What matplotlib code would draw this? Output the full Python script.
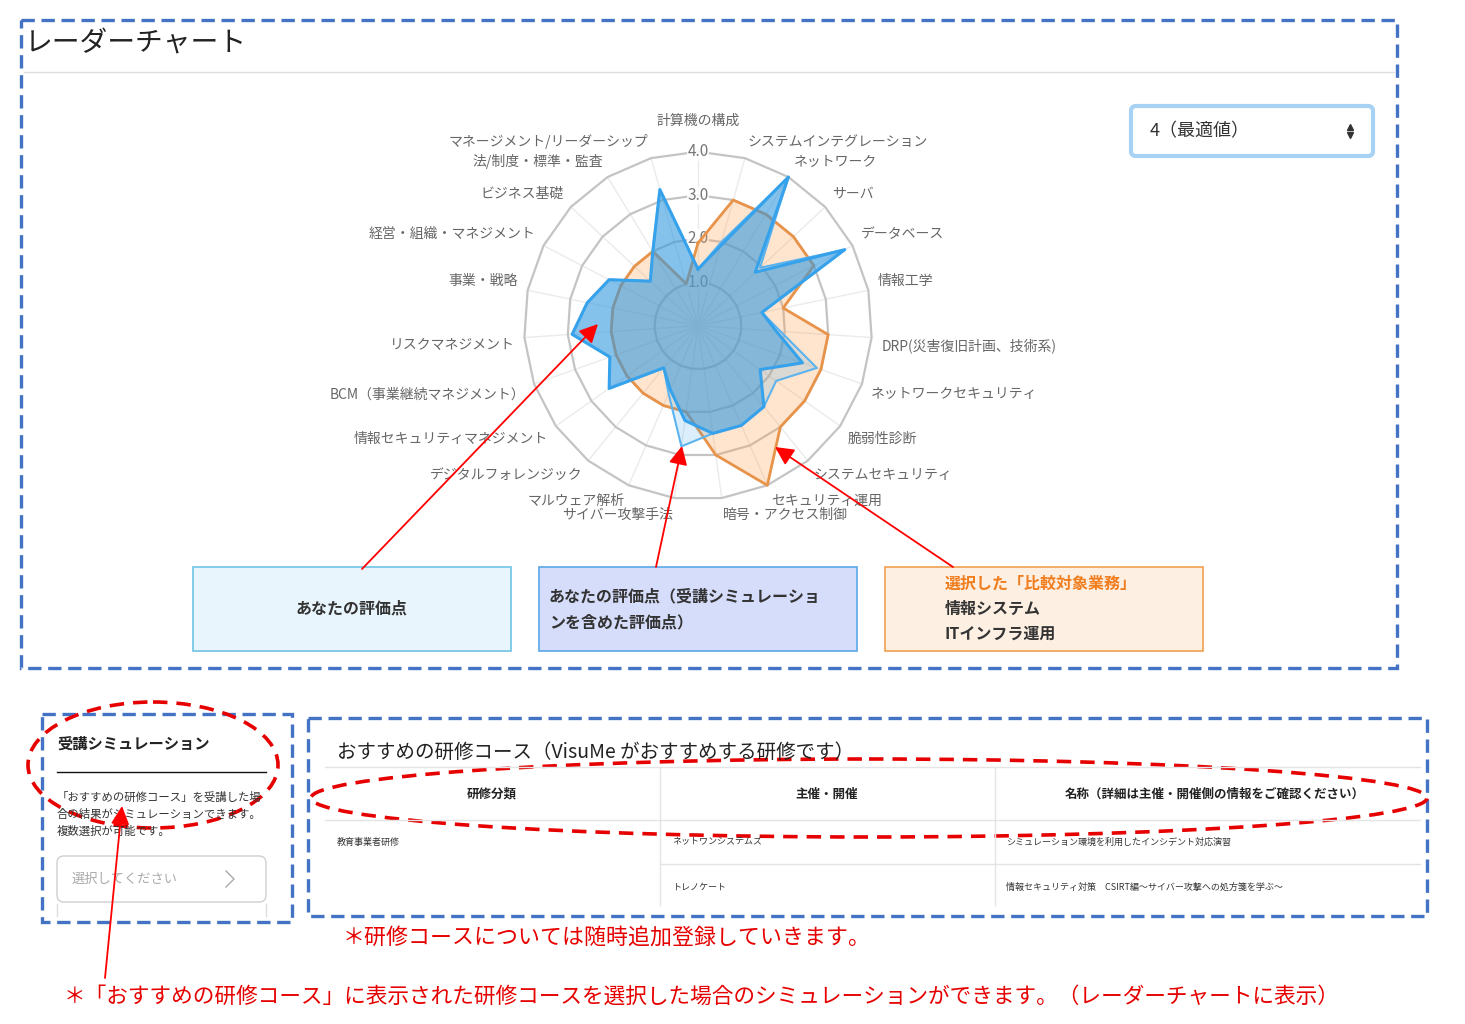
import numpy as np
import matplotlib
matplotlib.use("Agg")
import matplotlib.pyplot as plt
from matplotlib.patches import Rectangle, FancyBboxPatch, Ellipse

plt.rcParams['font.family'] = ['Noto Sans CJK JP', 'DejaVu Sans']

# レーダーチャートの項目（上から時計回り）
labels = [
    "計算機の構成", "システムインテグレーション", "ネットワーク", "サーバ",
    "データベース", "情報工学", "DRP(災害復旧計画、技術系)", "ネットワークセキュリティ",
    "脆弱性診断", "システムセキュリティ", "セキュリティ運用", "暗号・アクセス制御",
    "サイバー攻撃手法", "マルウェア解析", "デジタルフォレンジック",
    "情報セキュリティマネジメント", "BCM（事業継続マネジメント）", "リスクマネジメント",
    "事業・戦略", "経営・組織・マネジメント", "ビジネス基礎", "法/制度・標準・監査",
    "マネージメント/リーダーシップ",
]
comparison = [1.9, 3.0, 3.0, 3.0, 3.0, 2.0, 3.0, 3.0, 3.0, 3.0, 4.0, 3.0,
              2.0, 2.0, 2.0, 2.0, 2.0, 2.0, 2.0, 2.0, 2.0, 2.0, 1.0]
your_score = [1.3, 1.9, 4.0, 1.8, 3.8, 1.5, 1.8, 2.55, 1.75, 2.4, 2.5, 2.5,
              2.2, 1.6, 1.25, 2.5, 2.15, 2.9, 2.6, 2.3, 1.5, 2.0, 3.25]
simulation = [1.3, 2.0, 4.0, 1.95, 3.8, 1.5, 1.9, 2.9, 2.2, 2.4, 2.5, 2.5,
              2.8, 1.7, 1.25, 2.5, 2.15, 2.9, 2.6, 2.3, 1.5, 2.0, 3.25]
r_ticks = [1.0, 2.0, 3.0, 4.0]

# 下の表
table_header = ["研修分類", "主催・開催", "名称（詳細は主催・開催側の情報をご確認ください）"]
table_rows = [
    ["教育事業者研修", "ネットワンシステムズ", "シミュレーション環境を利用したインシデント対応演習"],
    ["", "トレノケート", "情報セキュリティ対策　CSIRT編～サイバー攻撃への処方箋を学ぶ～"],
]

W, H = 1465, 1024
fig = plt.figure(figsize=(W / 100, H / 100), dpi=100)

bg = fig.add_axes([0, 0, 1, 1])
bg.set_xlim(0, W)
bg.set_ylim(H, 0)
bg.axis("off")

frame_blue = "#4472c4"
red = "#e60000"

# ==== 上のパネル ====
bg.add_patch(Rectangle((21, 20), 1376, 648, fill=False, ec=frame_blue, lw=2.4,
                       ls=(0, (4, 2))))
bg.text(25, 43, "レーダーチャート", fontsize=20, color="#222", va="center")
bg.plot([24, 1394], [72, 72], color="#dcdcdc", lw=1)

# セレクトボックス
bg.add_patch(FancyBboxPatch((1131, 106), 242, 50, boxstyle="round,pad=0,rounding_size=5",
                            fc="white", ec="#a8d2f4", lw=3))
bg.text(1150, 131, "4（最適値）", fontsize=13, color="#333", va="center")
bg.plot(1350, 127, marker="^", ms=5, color="#333")
bg.plot(1350, 135, marker="v", ms=5, color="#333")

# ==== レーダーチャート ====
cx, cy, R = 698, 325.7, 174
ax = fig.add_axes([(cx - R) / W, 1 - (cy + R) / H, 2 * R / W, 2 * R / H],
                  projection="polar", zorder=2)
ax.set_theta_zero_location("N")
ax.set_theta_direction(-1)
ax.set_ylim(0, 4)
ax.set_axis_off()

n = len(labels)
theta = np.arange(n) * 2 * np.pi / n
tc = np.append(theta, theta[0])

for t in theta:
    ax.plot([t, t], [0, 4], color="#ebebeb", lw=1, zorder=1, clip_on=False)
for r in r_ticks:
    ax.plot(tc, [r] * (n + 1), color="#c4c4c4", lw=1.6, zorder=1.2, clip_on=False)
    ax.text(0, r, f"{r:.1f}", ha="center", va="center", fontsize=11, color="#777",
            zorder=1.5, bbox=dict(fc="white", ec="none", pad=0.6, alpha=0.85))


def close(v):
    return list(v) + [v[0]]


ax.fill(tc, close(comparison), color="#ff9f50", alpha=0.28, lw=0, zorder=3)
ax.plot(tc, close(comparison), color="#e8934a", lw=2, zorder=3.1, clip_on=False)
ax.fill(tc, close(simulation), color="#36a2eb", alpha=0.18, lw=0, zorder=4)
ax.plot(tc, close(simulation), color="#5db3ee", lw=1.5, zorder=4.1, clip_on=False)
ax.fill(tc, close(your_score), color="#3097de", alpha=0.5, lw=0, zorder=5)
ax.plot(tc, close(your_score), color="#36a2eb", lw=2.2, zorder=5.1, clip_on=False)

for t, lab in zip(theta, labels):
    deg = np.degrees(t)
    r_lab = 4.22
    if deg < 0.5:
        ha = "center"
        r_lab = 4.55
    elif deg < 180:
        ha = "left"
    else:
        ha = "right"
    va = "top" if 90 < deg < 270 else "bottom"
    ax.text(t, r_lab, lab, ha=ha, va=va, fontsize=10, color="#666")

# 凡例ボックス
bg.add_patch(Rectangle((193, 567), 318, 84, fc="#e8f5fd", ec="#6fc3e6", lw=1.2))
bg.text(352, 609, "あなたの評価点", fontsize=11.5, weight="bold", color="#333",
        ha="center", va="center")
bg.add_patch(Rectangle((539, 567), 318, 84, fc="#d6ddfa", ec="#5aa8e6", lw=1.2))
bg.text(549, 596, "あなたの評価点（受講シミュレーショ", fontsize=11.5, weight="bold",
        color="#333", va="center")
bg.text(549, 622, "ンを含めた評価点）", fontsize=11.5, weight="bold", color="#333",
        va="center")
bg.add_patch(Rectangle((885, 567), 318, 84, fc="#fdefe2", ec="#f0a050", lw=1.2))
bg.text(945, 584, "選択した「比較対象業務」", fontsize=11.5, weight="bold",
        color="#f07d1e", va="center")
bg.text(945, 609, "情報システム", fontsize=11.5, weight="bold", color="#333", va="center")
bg.text(945, 634, "ITインフラ運用", fontsize=11.5, weight="bold", color="#333", va="center")

# ==== 受講シミュレーション パネル ====
bg.add_patch(Rectangle((42, 714), 250, 208, fill=False, ec=frame_blue, lw=2.4,
                       ls=(0, (4, 2))))
bg.text(57, 744, "受講シミュレーション", fontsize=11, weight="bold", color="#222",
        va="center")
bg.plot([57, 266], [772, 772], color="#111", lw=1)
para = ["「おすすめの研修コース」を受講した場", "合の結果がシミュレーションできます。",
        "複数選択が可能です。"]
for i, line in enumerate(para):
    bg.text(57, 797 + i * 17, line, fontsize=8.2, color="#333", va="center")
bg.add_patch(FancyBboxPatch((57, 856), 209, 46, boxstyle="round,pad=0,rounding_size=7",
                            fc="white", ec="#cfcfcf", lw=1))
bg.text(72, 879, "選択してください", fontsize=9.5, color="#aaa", va="center")
bg.plot([226, 234, 226], [871, 879, 887], color="#aaa", lw=1)
bg.plot([57, 57], [904, 916], color="#dddddd", lw=1)
bg.plot([266, 266], [904, 916], color="#dddddd", lw=1)
bg.add_patch(Ellipse((153, 765), 250, 126, fill=False, ec=red, lw=2.6,
                     ls=(0, (4, 2.5))))

# ==== おすすめの研修コース パネル ====
bg.add_patch(Rectangle((308, 718), 1119, 198, fill=False, ec=frame_blue, lw=2.4,
                       ls=(0, (4, 2))))
bg.text(337, 752, "おすすめの研修コース（VisuMe がおすすめする研修です）", fontsize=14,
        color="#222", va="center")
grid_c = "#e4e4e4"
bg.plot([325, 1420], [767, 767], color=grid_c, lw=1)
bg.plot([325, 1420], [820, 820], color=grid_c, lw=1)
bg.plot([660, 1420], [864, 864], color=grid_c, lw=1)
bg.plot([660, 660], [767, 905], color=grid_c, lw=1)
bg.plot([995, 995], [767, 905], color=grid_c, lw=1)
col_centers = [492, 827, 1215]
col_left = [337, 672, 1006]
for xc, h in zip(col_centers, table_header):
    bg.text(xc, 794, h, fontsize=9, weight="bold", color="#222", ha="center", va="center")
for i, row in enumerate(table_rows):
    for xl, cell in zip(col_left, row):
        bg.text(xl, 842 + i * 45, cell, fontsize=6.5, color="#333", va="center")
bg.add_patch(Ellipse((869, 798), 1116, 78, fill=False, ec=red, lw=2.6,
                     ls=(0, (4, 2.5))))

# 赤字の注記
bg.text(343, 938, "＊研修コースについては随時追加登録していきます。", fontsize=15.8,
        color=red, va="center")
bg.text(64, 997, "＊「おすすめの研修コース」に表示された研修コースを選択した場合のシミュレーションができます。（レーダーチャートに表示）",
        fontsize=15.6, color=red, va="center")

# ==== 矢印（一番上のレイヤー） ====
top = fig.add_axes([0, 0, 1, 1], zorder=5)
top.set_xlim(0, W)
top.set_ylim(H, 0)
top.axis("off")
arrow_kw = dict(arrowstyle="-|>", color="red", lw=1.3, mutation_scale=28,
                shrinkA=0, shrinkB=0)
top.annotate("", xy=(598, 324), xytext=(362, 569), arrowprops=arrow_kw)
top.annotate("", xy=(682, 446), xytext=(656, 567), arrowprops=arrow_kw)
top.annotate("", xy=(775, 447), xytext=(953, 567), arrowprops=arrow_kw)
top.annotate("", xy=(122, 806), xytext=(105, 978), arrowprops=arrow_kw)

fig.savefig("out.png", dpi=100)
